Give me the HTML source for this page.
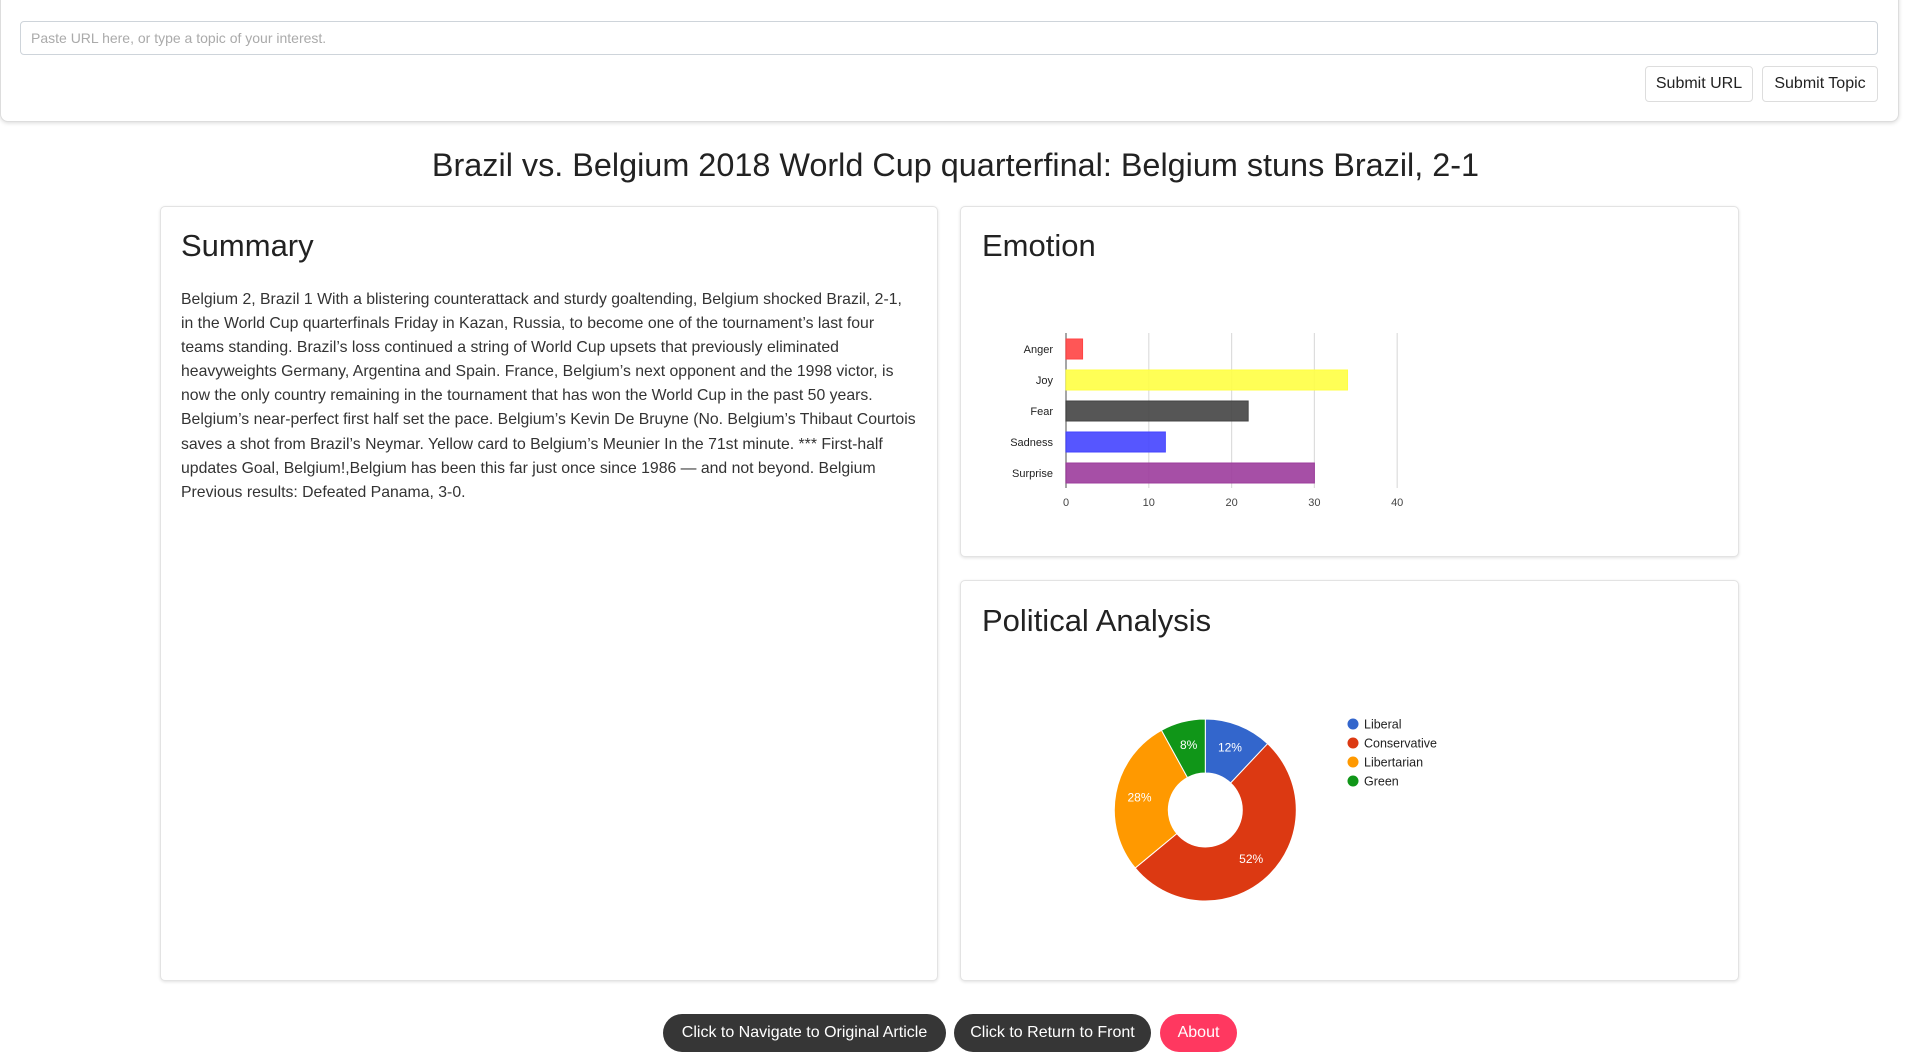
<!DOCTYPE html>
<html><head><meta charset="utf-8"><style>
body{margin:0;width:1911px;height:1062px;background:#fff;font-family:"Liberation Sans",sans-serif;color:#212529;position:relative;overflow:hidden}
.abs{position:absolute;box-sizing:border-box}
.top{left:0;top:-4px;width:1899px;height:126px;border:1px solid #ddd;border-radius:0 0 8px 8px;box-shadow:0 1px 4px rgba(0,0,0,.15);background:#fff}
.input{left:20px;top:21px;width:1858px;height:34px;border:1px solid #ced4da;border-radius:4px;font-size:14px;color:#aaa;line-height:32px;padding-left:10px}
.btn{border:1px solid #ddd;border-radius:4px;background:#fff;font-size:16px;color:#222;text-align:center;line-height:34px}
.card{border:1px solid #e3e3e3;border-radius:5px;box-shadow:0 1px 3px rgba(0,0,0,.12);background:#fff}
h2{margin:0;position:absolute;font-weight:500;font-size:31px;color:#222}
.sum{left:181px;top:288px;font-size:15.8px;line-height:24.1px;color:#333;white-space:nowrap}
.pill{border-radius:20px;color:#fff;font-size:16px;text-align:center;line-height:38px;height:38px;top:1014px}
</style></head><body>
<div class="abs top"></div>
<div class="abs input">Paste URL here, or type a topic of your interest.</div>
<div class="abs btn" style="left:1645px;top:66px;width:108px;height:36px">Submit URL</div>
<div class="abs btn" style="left:1762px;top:66px;width:116px;height:36px">Submit Topic</div>
<div class="abs" style="left:0;width:1911px;top:147px;text-align:center;font-size:32.4px;font-weight:500;color:#222">Brazil vs. Belgium 2018 World Cup quarterfinal: Belgium stuns Brazil, 2-1</div>

<div class="abs card" style="left:160px;top:206px;width:778px;height:775px"></div>
<h2 style="left:181px;top:228px">Summary</h2>
<div class="abs sum">Belgium 2, Brazil 1 With a blistering counterattack and sturdy goaltending, Belgium shocked Brazil, 2-1,<br>in the World Cup quarterfinals Friday in Kazan, Russia, to become one of the tournament’s last four<br>teams standing. Brazil’s loss continued a string of World Cup upsets that previously eliminated<br>heavyweights Germany, Argentina and Spain. France, Belgium’s next opponent and the 1998 victor, is<br>now the only country remaining in the tournament that has won the World Cup in the past 50 years.<br>Belgium’s near-perfect first half set the pace. Belgium’s Kevin De Bruyne (No. Belgium’s Thibaut Courtois<br>saves a shot from Brazil’s Neymar. Yellow card to Belgium’s Meunier In the 71st minute. *** First-half<br>updates Goal, Belgium!,Belgium has been this far just once since 1986 — and not beyond. Belgium<br>Previous results: Defeated Panama, 3-0.</div>

<div class="abs card" style="left:960px;top:206px;width:779px;height:351px"></div>
<h2 style="left:982px;top:228px">Emotion</h2>
<svg class="abs" id="bar" style="left:965px;top:300px" width="760" height="230"></svg>

<div class="abs card" style="left:960px;top:580px;width:779px;height:401px"></div>
<h2 style="left:982px;top:603px">Political Analysis</h2>
<svg class="abs" id="pie" style="left:1090px;top:700px" width="380" height="230"></svg>

<div class="abs pill" style="left:663px;width:283px;background:#363636">Click to Navigate to Original Article</div>
<div class="abs pill" style="left:954px;width:197px;background:#363636">Click to Return to Front</div>
<div class="abs pill" style="left:1160px;width:77px;background:#ff3860">About</div>

<script>
const emoCats=["Anger","Joy","Fear","Sadness","Surprise"];
const emoVals=[2,34,22,12,30];
const emoColors=["#ff4444","#ffff44","#444444","#4444ff","#9c3c9c"];
const xTicks=[0,10,20,30,40];
const polCats=["Liberal","Conservative","Libertarian","Green"];
const polVals=[12,52,28,8];
const polColors=["#3366cc","#dc3912","#ff9900","#109618"];
const NS="http://www.w3.org/2000/svg";
function mk(p,t,a){const e=document.createElementNS(NS,t);for(const k in a)e.setAttribute(k,a[k]);p.appendChild(e);return e;}
(function(){
const s=document.getElementById('bar');
const x0=101,pxPer=8.28,top=33,pitch=31,bh=20;
const X=v=>x0+v*pxPer;
xTicks.forEach(t=>{
 const l=mk(s,'line',{x1:X(t),x2:X(t),y1:top,y2:188,stroke:t===0?'#888':'#ddd','stroke-width':t===0?1.5:1.2});
 
 
 const tx=mk(s,'text',{x:X(t),y:206,'text-anchor':'middle','font-size':11,fill:'#444','font-family':'Liberation Sans, sans-serif'});
 tx.textContent=t;
 
 
});
emoCats.forEach((c,i)=>{
 const y=top+6+i*pitch;
 const r=mk(s,'rect',{x:X(0),y:y,width:X(emoVals[i])-X(0),height:bh,fill:emoColors[i],'fill-opacity':0.9,stroke:emoColors[i]});
 
 
 const tx=mk(s,'text',{x:88,y:y+14,'text-anchor':'end','font-size':11,fill:'#222','font-family':'Liberation Sans, sans-serif'});
 tx.textContent=c;
 
 
});
})();
(function(){
const s=document.getElementById('pie');
const cx=115.3,cy=110,R=91,r=37;
const tot=polVals.reduce((a,b)=>a+b,0);
let a=0;
polVals.forEach((v,i)=>{
 const a0=a,a1=a+v/tot*2*Math.PI;a=a1;
 const P=(rad,an)=>[cx+rad*Math.sin(an),cy-rad*Math.cos(an)];
 const [x1,y1]=P(R,a0),[x2,y2]=P(R,a1),[x3,y3]=P(r,a1),[x4,y4]=P(r,a0);
 const lg=(a1-a0)>Math.PI?1:0;
 const p=mk(s,'path',{d:`M${x1},${y1}A${R},${R} 0 ${lg} 1 ${x2},${y2}L${x3},${y3}A${r},${r} 0 ${lg} 0 ${x4},${y4}Z`,fill:polColors[i],stroke:'#fff','stroke-width':1});
 
 
 const [lx,ly]=P((R+r)/2+3,(a0+a1)/2);
 const t=mk(s,'text',{x:lx,y:ly+4,'text-anchor':'middle','font-size':12,fill:'#fff','font-family':'Liberation Sans, sans-serif'});
 t.textContent=Math.round(v/tot*100)+'%';
 
 
 const c=mk(s,'circle',{cx:263,cy:24+i*19,r:5.5,fill:polColors[i]});
 
 
 const lt=mk(s,'text',{x:274,y:28.5+i*19,'font-size':12.5,fill:'#222','font-family':'Liberation Sans, sans-serif'});
 lt.textContent=polCats[i];
 
 
});
})();
</script>
</body></html>
